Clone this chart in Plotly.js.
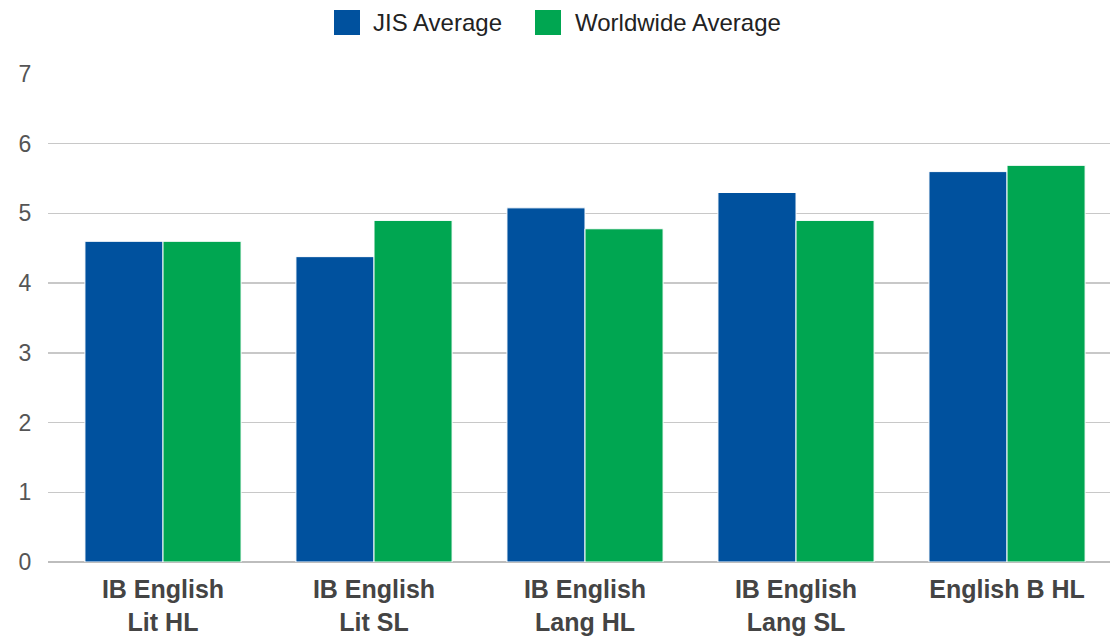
<!DOCTYPE html>
<html><head><meta charset="utf-8">
<script src="https://cdn.plot.ly/plotly-3.0.1.min.js"></script>
<style>html,body{margin:0;padding:0;background:#fff}#chart{width:1110px;height:639px}</style>
</head><body><div id="chart"></div>
<script>
const categories = ["IB English<br>Lit HL","IB English<br>Lit SL","IB English<br>Lang HL","IB English<br>Lang SL","English B HL"];
const seriesNames = ["JIS Average","Worldwide Average"];
const jisValues = [4.6, 4.38, 5.08, 5.3, 5.6];
const worldValues = [4.6, 4.9, 4.78, 4.9, 5.69];
const yTicks = [0,1,2,3,4,5,6,7];
const colors = ["#00519E","#00A651"];

const W=1110,H=639,L=48,R=0,T=74,B=77;
const pw=W-L-R, ph=H-T-B;
const px=x=>(x-L)/pw, py=y=>(H-B-y)/ph;

const traces=[jisValues,worldValues].map((v,i)=>({
  type:'bar', x:[0,1,2,3,4], y:v, name:seriesNames[i],
  marker:{color:colors[i], line:{color:'#ffffff',width:1}},
  hoverinfo:'y', showlegend:false
}));

const legendItems=[{sq:334,tx:373},{sq:535,tx:575}];
const shapes=legendItems.map((it,i)=>({type:'rect',xref:'paper',yref:'paper',
  x0:px(it.sq),x1:px(it.sq+26),y0:py(35),y1:py(10),fillcolor:colors[i],line:{width:0}}));
const annotations=legendItems.map((it,i)=>({xref:'paper',yref:'paper',x:px(it.tx-2),y:py(23),
  xanchor:'left',yanchor:'middle',showarrow:false,text:seriesNames[i],
  font:{family:'Liberation Sans, Arial, sans-serif',size:24,color:'#222'}}));

Plotly.newPlot('chart',traces,{
  width:W,height:H,margin:{l:L,r:R,t:T,b:B,pad:0},
  paper_bgcolor:'#fff',plot_bgcolor:'#fff',
  barmode:'group',bargap:0.26,bargroupgap:0,
  showlegend:false,
  xaxis:{range:[-0.545,4.488],tickmode:'array',tickvals:[0,1,2,3,4],ticktext:categories,
    showgrid:false,zeroline:false,showline:false,ticks:'outside',ticklen:5,tickcolor:'rgba(0,0,0,0)',
    tickfont:{family:'Liberation Sans, Arial, sans-serif',size:25,color:'#444'},fixedrange:true},
  yaxis:{range:[0,7],tickmode:'array',tickvals:yTicks,showgrid:true,gridcolor:'#c8c8c8',gridwidth:1.5,
    zeroline:true,zerolinecolor:'#bdbdbd',zerolinewidth:2,ticks:'outside',ticklen:11,tickcolor:'rgba(0,0,0,0)',
    tickfont:{family:'Liberation Sans, Arial, sans-serif',size:23,color:'#555'},fixedrange:true},
  shapes:shapes, annotations:annotations
},{displayModeBar:false,staticPlot:true}).then(()=>{
  document.querySelectorAll('.xtick text').forEach(t=>t.style.fontWeight='bold');
});
</script></body></html>
